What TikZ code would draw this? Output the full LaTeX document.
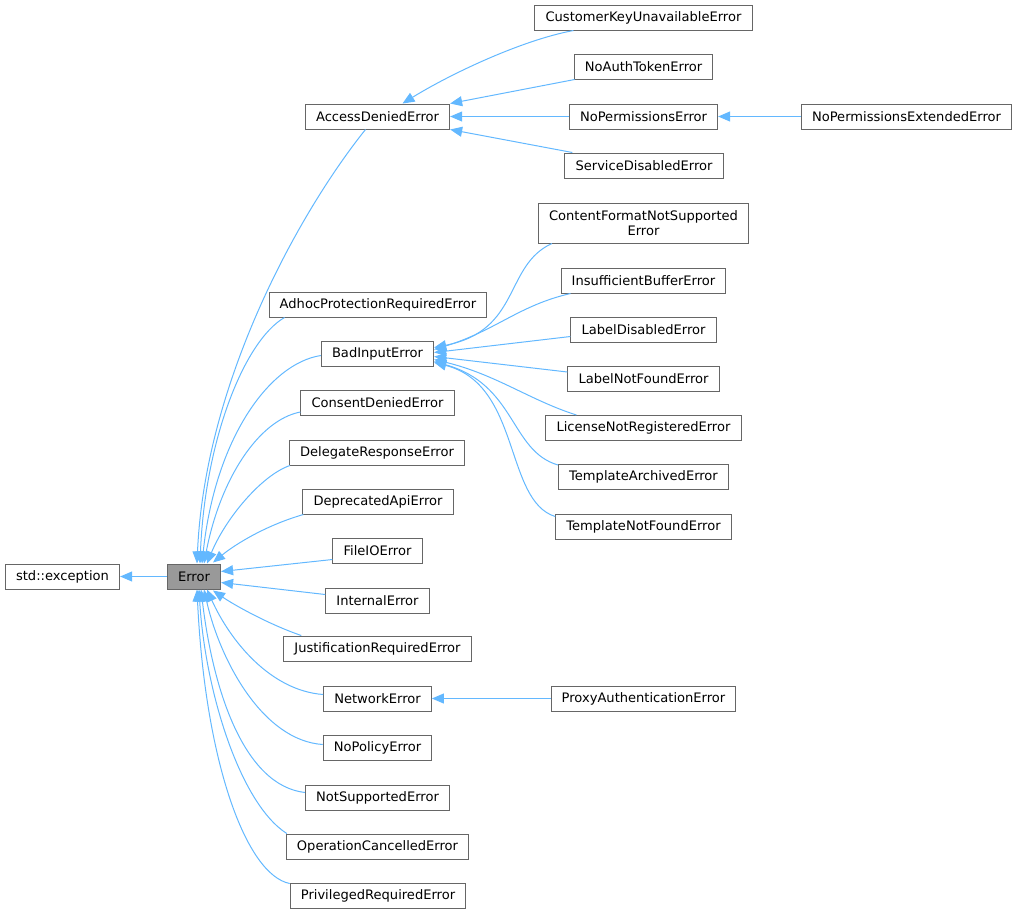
\documentclass[tikz,border=0pt]{standalone}
\usepackage{fontspec}
\setmainfont{DejaVu Sans}
\usepackage{xcolor}
\usepackage{tikz}
\usetikzlibrary{arrows.meta,calc}

\definecolor{edgeblue}{HTML}{63B8FF}
\definecolor{boxgray}{HTML}{666666}
\definecolor{basefill}{HTML}{999999}

\begin{document}
\begin{tikzpicture}[
    x=0.75pt, y=-0.75pt,
    cls/.style={draw=boxgray, fill=white, line width=0.75pt, minimum height=18.75pt, inner xsep=8pt, inner ysep=2pt, align=center, font=\fontsize{9.8}{11.25}\selectfont},
    base/.style={cls, fill=basefill},
    arrow/.style={-{Triangle[length=9pt,width=7.5pt]}, line width=0.75pt, draw=edgeblue}
]
    \useasboundingbox (0,0) rectangle (1017,915);

    % Base classes
    \node[cls] (stdexc) at (62.5,576.5) {std::exception};
    \node[base] (error) at (194,576.5) {Error};

    % Direct subclasses of Error
    \node[cls] (accessdenied) at (377.5,116.5) {AccessDeniedError};
    \node[cls] (adhoc) at (378,304.5) {AdhocProtectionRequiredError};
    \node[cls] (badinput) at (377.5,353.5) {BadInputError};
    \node[cls] (consent) at (377.5,403) {ConsentDeniedError};
    \node[cls] (delegate) at (377,452.5) {DelegateResponseError};
    \node[cls] (deprecated) at (378,501.5) {DeprecatedApiError};
    \node[cls] (fileio) at (377.5,550.5) {FileIOError};
    \node[cls] (internal) at (377.5,600.5) {InternalError};
    \node[cls] (justification) at (377.5,648.5) {JustificationRequiredError};
    \node[cls] (network) at (377.5,698.5) {NetworkError};
    \node[cls] (nopolicy) at (377.5,747.5) {NoPolicyError};
    \node[cls] (notsupported) at (377.5,797.5) {NotSupportedError};
    \node[cls] (opcancel) at (377.5,846.5) {OperationCancelledError};
    \node[cls] (privileged) at (378,895.5) {PrivilegedRequiredError};

    % Subclasses of AccessDeniedError
    \node[cls] (customerkey) at (643.5,17.5) {CustomerKeyUnavailableError};
    \node[cls] (noauthtoken) at (643.5,66.5) {NoAuthTokenError};
    \node[cls] (nopermissions) at (643.5,116.5) {NoPermissionsError};
    \node[cls] (servicedisabled) at (644,165.5) {ServiceDisabledError};
    \node[cls] (nopermext) at (906.5,116.5) {NoPermissionsExtendedError};

    % Subclasses of BadInputError
    \node[cls, minimum height=30pt] (contentformat) at (643.5,223) {ContentFormatNotSupported\\Error};
    \node[cls] (insufficient) at (643.5,280.5) {InsufficientBufferError};
    \node[cls] (labeldisabled) at (643.5,329.5) {LabelDisabledError};
    \node[cls] (labelnotfound) at (643.5,379) {LabelNotFoundError};
    \node[cls] (license) at (643.5,428) {LicenseNotRegisteredError};
    \node[cls] (archived) at (643.5,477) {TemplateArchivedError};
    \node[cls] (tplnotfound) at (643.5,526.5) {TemplateNotFoundError};

    % Subclass of NetworkError
    \node[cls] (proxyauth) at (643.5,698.5) {ProxyAuthenticationError};

    % Error -> std::exception
    \draw[arrow] (error) -- (stdexc);

    % Upper subclasses -> Error
    \draw[arrow] ($(accessdenied.south)+(-12,0)$) .. controls +(-65,81) and +(8,-183) .. ($(error.north)+(3,0)$);
    \draw[arrow] ($(adhoc.south west)+(16,0)$) .. controls +(-40,23) and +(5,-124) .. ($(error.north)+(6,0)$);
    \draw[arrow] ($(badinput.west)+(0,2)$) .. controls +(-52,8) and +(13,-124) .. ($(error.north)+(8,0)$);
    \draw[arrow] ($(consent.south west)+(0,-4)$) .. controls +(-42,8) and +(16,-84) .. ($(error.north)+(10,0)$);
    \draw[arrow] ($(delegate.south west)+(1,0)$) .. controls +(-29,10) and +(18,-44) .. ($(error.north)+(13,0)$);
    \draw[arrow] ($(deprecated.south west)+(1,0)$) .. controls +(-38,11) and +(22,-18) .. ($(error.north)+(19,-1)$);
    \draw[arrow] ($(fileio.south west)+(0,-4)$) -- ($(error.east)+(0,-5)$);
    \draw[arrow] ($(internal.west)+(0,-6)$) -- ($(error.east)+(0,6)$);

    % Lower subclasses -> Error
    \draw[arrow] ($(justification.north west)+(18,0)$) .. controls +(-32,-11) and +(22,15) .. ($(error.south)+(19,1)$);
    \draw[arrow] ($(network.west)+(0,-4)$) .. controls +(-53,-4) and +(23,51) .. ($(error.south)+(13,0)$);
    \draw[arrow] ($(nopolicy.west)+(0,-3)$) .. controls +(-60,-4) and +(16,71) .. ($(error.south)+(10,0)$);
    \draw[arrow] ($(notsupported.west)+(0,-5)$) .. controls +(-61,-7) and +(12,101) .. ($(error.south)+(7,0)$);
    \draw[arrow] ($(opcancel.north west)+(1,0)$) .. controls +(-47,-30) and +(6,101) .. ($(error.south)+(5,0)$);
    \draw[arrow] ($(privileged.north west)+(0,1)$) .. controls +(-44,-9) and +(8,171) .. ($(error.south)+(3,0)$);

    % AccessDeniedError family
    \draw[arrow] ($(customerkey.south west)+(39,0)$) .. controls +(-53,10) and +(47,-29) .. ($(accessdenied.north)+(25,0)$);
    \draw[arrow] ($(noauthtoken.south west)+(1,0)$) -- (accessdenied.north east);
    \draw[arrow] (nopermissions) -- (accessdenied);
    \draw[arrow] ($(servicedisabled.north west)+(8,0)$) -- (accessdenied.south east);
    \draw[arrow] (nopermext) -- (nopermissions);

    % BadInputError family
    \draw[arrow] ($(contentformat.south west)+(14,0)$) .. controls +(-48,22) and +(87,-17) .. ($(badinput.east)+(0,-6)$);
    \draw[arrow] ($(insufficient.south west)+(10,0)$) .. controls +(-52,12) and +(62,-19) .. ($(badinput.east)+(0,-4)$);
    \draw[arrow] ($(labeldisabled.west)+(0,7)$) -- ($(badinput.east)+(0,-1)$);
    \draw[arrow] ($(labelnotfound.west)+(0,-7)$) -- ($(badinput.east)+(0,3)$);
    \draw[arrow] ($(license.north west)+(31,0)$) .. controls +(-47,-15) and +(62,15) .. ($(badinput.east)+(0,6)$);
    \draw[arrow] ($(archived.north west)+(0,1)$) .. controls +(-48,-14) and +(82,23) .. ($(badinput.east)+(0,8)$);
    \draw[arrow] ($(tplnotfound.west)+(0,-10)$) .. controls +(-51,-16) and +(87,22) .. ($(badinput.east)+(0,9)$);

    % NetworkError family
    \draw[arrow] (proxyauth) -- (network);

\end{tikzpicture}
\end{document}
